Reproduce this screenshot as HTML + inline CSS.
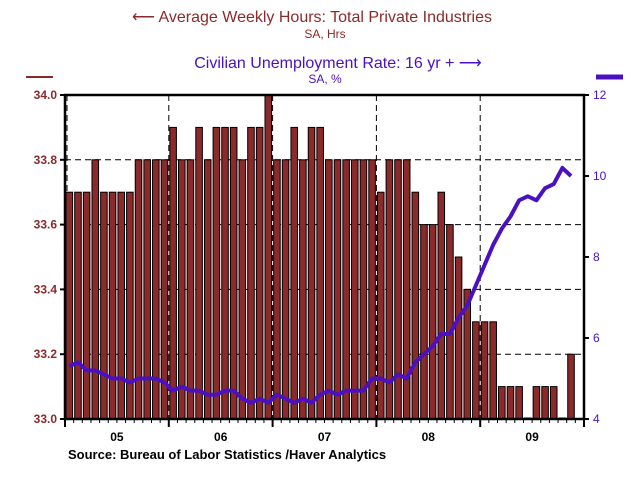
<!DOCTYPE html>
<html><head><meta charset="utf-8"><style>
body{margin:0;background:#fff;}
svg{display:block;font-family:"Liberation Sans",Arial,sans-serif;}
</style></head><body>
<svg id="chart" width="633" height="480" viewBox="0 0 633 480" xmlns="http://www.w3.org/2000/svg">
<text x="312" y="22" font-size="16" fill="#8b2a2a" text-anchor="middle">⟵ Average Weekly Hours: Total Private Industries</text>
<text x="325" y="38" font-size="12" fill="#8b2a2a" text-anchor="middle">SA, Hrs</text>
<text x="338" y="68" font-size="16" fill="#4b10c0" text-anchor="middle">Civilian Unemployment Rate: 16 yr + ⟶</text>
<text x="325" y="83" font-size="12" fill="#4b10c0" text-anchor="middle">SA, %</text>
<line x1="26" y1="77" x2="53" y2="77" stroke="#8b2a2a" stroke-width="2"/>
<line x1="596" y1="77" x2="623" y2="77" stroke="#4b10c0" stroke-width="5"/>
<g id="grid"></g><g id="bars"></g><g id="line"></g><g id="axes"></g>
<text x="68" y="459" font-size="13" font-weight="bold" fill="#000">Source:  Bureau of Labor Statistics /Haver Analytics</text>
</svg>
<script>
const years = ['05','06','07','08','09'];
const hours = [33.7,33.7,33.7,33.8,33.7,33.7,33.7,33.7,33.8,33.8,33.8,33.8,
33.9,33.8,33.8,33.9,33.8,33.9,33.9,33.9,33.8,33.9,33.9,34.0,
33.8,33.8,33.9,33.8,33.9,33.9,33.8,33.8,33.8,33.8,33.8,33.8,
33.7,33.8,33.8,33.8,33.7,33.6,33.6,33.7,33.6,33.5,33.4,33.3,
33.3,33.3,33.1,33.1,33.1,33.0,33.1,33.1,33.1,33.0,33.2];
const unemp = [5.3,5.4,5.2,5.2,5.1,5.0,5.0,4.9,5.0,5.0,5.0,4.9,
4.7,4.8,4.7,4.7,4.6,4.6,4.7,4.7,4.5,4.4,4.5,4.4,
4.6,4.5,4.4,4.5,4.4,4.6,4.7,4.6,4.7,4.7,4.7,5.0,
5.0,4.9,5.1,5.0,5.4,5.6,5.8,6.1,6.1,6.5,6.8,7.3,
7.8,8.3,8.7,9.0,9.4,9.5,9.4,9.7,9.8,10.2,10.0];
const leftTicks = [33.0,33.2,33.4,33.6,33.8,34.0];
const rightTicks = [4,6,8,10,12];
const NS='http://www.w3.org/2000/svg';
const L=65,R=584,T=95,B=419,N=60;
const sw=(R-L)/N;
const xc=i=>L+sw*(i+0.5);
const yL=v=>B-(v-33.0)/1.0*(B-T);
const yR=v=>B-(v-4)/8*(B-T);
function mk(tag,attrs,parent){const e=document.createElementNS(NS,tag);for(const k in attrs)e.setAttribute(k,attrs[k]);document.getElementById(parent).appendChild(e);return e;}
leftTicks.slice(1,5).forEach(v=>{
 const g=mk('line',{x1:L,x2:R,y1:yL(v),y2:yL(v),stroke:'#000','stroke-dasharray':'6,4','stroke-width':1},'grid');
 
 
});
years.forEach((y,k)=>{if(k===0)return;
 const g=mk('line',{x1:L+sw*12*k,x2:L+sw*12*k,y1:T,y2:B,stroke:'#000','stroke-dasharray':'6,4','stroke-width':1},'grid');
 
 
});
mk('line',{x1:L+2,x2:L+2,y1:T,y2:B,stroke:'#000','stroke-dasharray':'6,4'},'grid');
hours.forEach((v,i)=>{
 const bw=sw*0.76;
 const b=mk('rect',{x:xc(i)-bw/2,y:Math.min(yL(v),B-1),width:bw,height:Math.max(B-yL(v),1),fill:'#8b2a2a',stroke:'#000','stroke-width':1},'bars');
 
 
});
const p=mk('polyline',{points:unemp.map((v,i)=>xc(i)+','+yR(v)).join(' '),fill:'none',stroke:'#4b10c0','stroke-width':4,'stroke-linejoin':'round'},'line');


const f=mk('rect',{x:L,y:T,width:R-L,height:B-T,fill:'none',stroke:'#000','stroke-width':2.5},'axes');


leftTicks.forEach(v=>{
 mk('line',{x1:L-5,x2:L,y1:yL(v),y2:yL(v),stroke:'#000','stroke-width':2},'axes');
 const t=mk('text',{x:L-8,y:yL(v)+4,'font-size':12,'font-weight':'bold',fill:'#8b2a2a','text-anchor':'end'},'axes');
 t.textContent=v.toFixed(1);
 
 
});
rightTicks.forEach(v=>{
 mk('line',{x1:R,x2:R+5,y1:yR(v),y2:yR(v),stroke:'#000','stroke-width':2},'axes');
 const t=mk('text',{x:R+9,y:yR(v)+4,'font-size':12,fill:'#4b10c0'},'axes');
 t.textContent=v;
 
 
});
for(let i=0;i<=N;i++){
 const big=i%12===0;
 mk('line',{x1:L+sw*i,x2:L+sw*i,y1:B,y2:B+(big?8:4),stroke:'#000','stroke-width':big?2:1},'axes');
}
years.forEach((y,k)=>{
 const t=mk('text',{x:L+sw*(12*k+6),y:B+22,'font-size':12,'font-weight':'bold',fill:'#000','text-anchor':'middle'},'axes');
 t.textContent=y;
 
 
});
</script>
</body></html>
